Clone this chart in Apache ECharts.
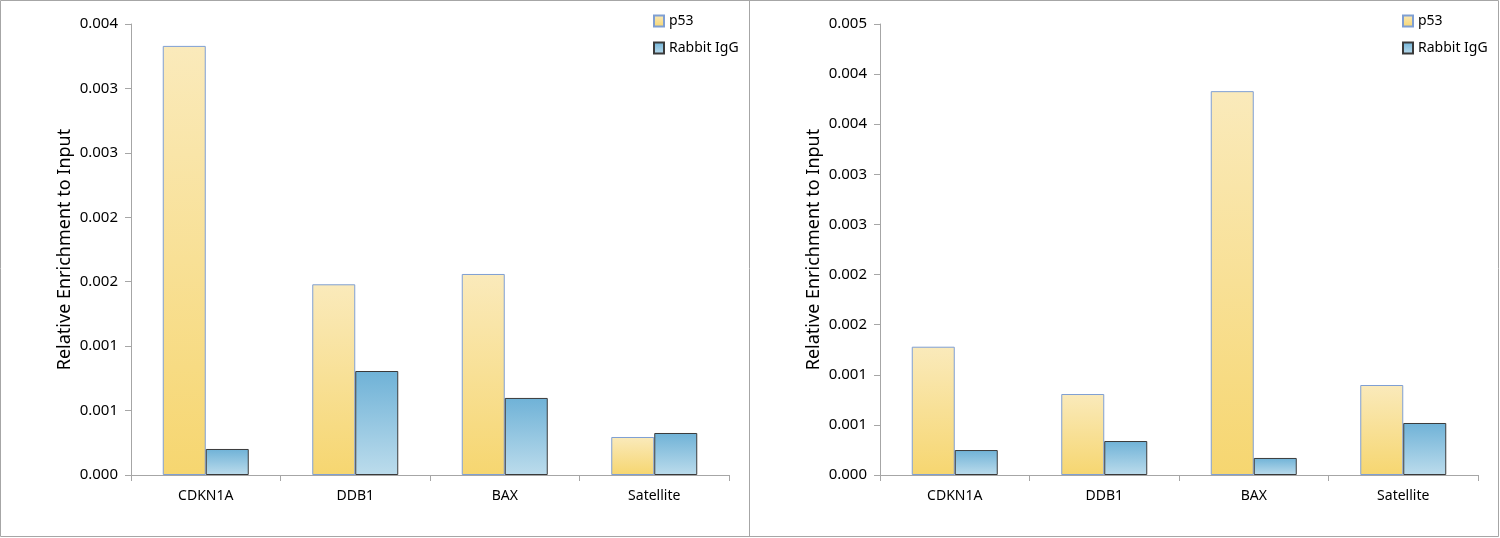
<!DOCTYPE html>
<html>
<head>
<meta charset="utf-8">
<script src="https://cdn.jsdelivr.net/npm/echarts@6/dist/echarts.min.js"></script>
<style>
html,body{margin:0;padding:0;background:#fff;}
#c{width:1500px;height:538px;}
</style>
</head>
<body>
<div id="c"></div>
<script>
const categories = ["CDKN1A", "DDB1", "BAX", "Satellite"];
const seriesNames = ["p53", "Rabbit IgG"];
const leftP53 = [0.00333, 0.00148, 0.00156, 0.000295];
const leftIgG = [0.000202, 0.000807, 0.000598, 0.000326];
const rightP53 = [0.00128, 0.000808, 0.00383, 0.000898];
const rightIgG = [0.000249, 0.000339, 0.00017, 0.000519];
const leftTickLabels = ["0.000","0.001","0.001","0.002","0.002","0.003","0.003","0.004"];
const rightTickLabels = ["0.000","0.001","0.001","0.002","0.002","0.003","0.003","0.004","0.004","0.005"];
const yTitle = "Relative Enrichment to Input";

const FONT = "Noto Sans";
const axisGrey = "#a6a6a6";

const p53Style = {
  color: new echarts.graphic.LinearGradient(0,0,0,1,[{offset:0,color:"#faeabb"},{offset:1,color:"#f6d670"}]),
  borderColor: "#7f9fd3", borderWidth: 1
};
const iggStyle = {
  color: new echarts.graphic.LinearGradient(0,0,0,1,[{offset:0,color:"#6fb2d7"},{offset:1,color:"#bcdcec"}]),
  borderColor: "#3a3a3a", borderWidth: 1
};

function yAxis(gi, labels){
  return {
    type:"value", gridIndex:gi, min:0, max:(labels.length-1)*0.0005, interval:0.0005,
    name:yTitle, nameLocation:"middle", nameGap:57,
    nameTextStyle:{fontFamily:FONT,fontSize:18,color:"#000"},
    axisLine:{show:true,lineStyle:{color:axisGrey,width:1}},
    axisTick:{show:true,length:6,lineStyle:{color:axisGrey}},
    splitLine:{show:false},
    axisLabel:{fontFamily:FONT,fontSize:15,color:"#000",margin:13,
      formatter:function(v){return labels[Math.round(v/0.0005)];}}
  };
}
function xAxis(gi){
  return {
    type:"category", gridIndex:gi, data:categories,
    axisLine:{lineStyle:{color:axisGrey,width:1}},
    axisTick:{show:true,length:6,alignWithLabel:false,lineStyle:{color:axisGrey}},
    axisLabel:{fontFamily:FONT,fontSize:14,color:"#000",margin:14}
  };
}
function legend(left){
  return {
    orient:"vertical", left:left, top:9, itemWidth:10, itemHeight:11, itemGap:13,
    icon:"rect",
    textStyle:{fontFamily:FONT,fontSize:14,color:"#000"},
    data:seriesNames
  };
}
const chart = echarts.init(document.getElementById("c"), null, {renderer:"canvas"});
chart.setOption({
  animation:false,
  backgroundColor:"#fff",
  grid:[
    {left:131, top:24, width:598, height:451},
    {left:880, top:24, width:598, height:451}
  ],
  xAxis:[xAxis(0), xAxis(1)],
  yAxis:[yAxis(0,leftTickLabels), yAxis(1,rightTickLabels)],
  legend:[legend(648), legend(1397)],
  series:[
    {name:seriesNames[0],type:"bar",xAxisIndex:0,yAxisIndex:0,data:leftP53,barWidth:43,barGap:"0%",itemStyle:p53Style},
    {name:seriesNames[1],type:"bar",xAxisIndex:0,yAxisIndex:0,data:leftIgG,barWidth:43,barGap:"0%",itemStyle:iggStyle},
    {name:seriesNames[0],type:"bar",xAxisIndex:1,yAxisIndex:1,data:rightP53,barWidth:43,barGap:"0%",itemStyle:p53Style},
    {name:seriesNames[1],type:"bar",xAxisIndex:1,yAxisIndex:1,data:rightIgG,barWidth:43,barGap:"0%",itemStyle:iggStyle}
  ],
  graphic:[
    {type:"rect",silent:true,shape:{x:0.5,y:0.5,width:1498,height:536},style:{fill:"none",stroke:"#a6a6a6",lineWidth:1}},
    {type:"line",silent:true,shape:{x1:749.5,y1:0,x2:749.5,y2:537},style:{stroke:"#a6a6a6",lineWidth:1}}
  ]
});
</script>
</body>
</html>
